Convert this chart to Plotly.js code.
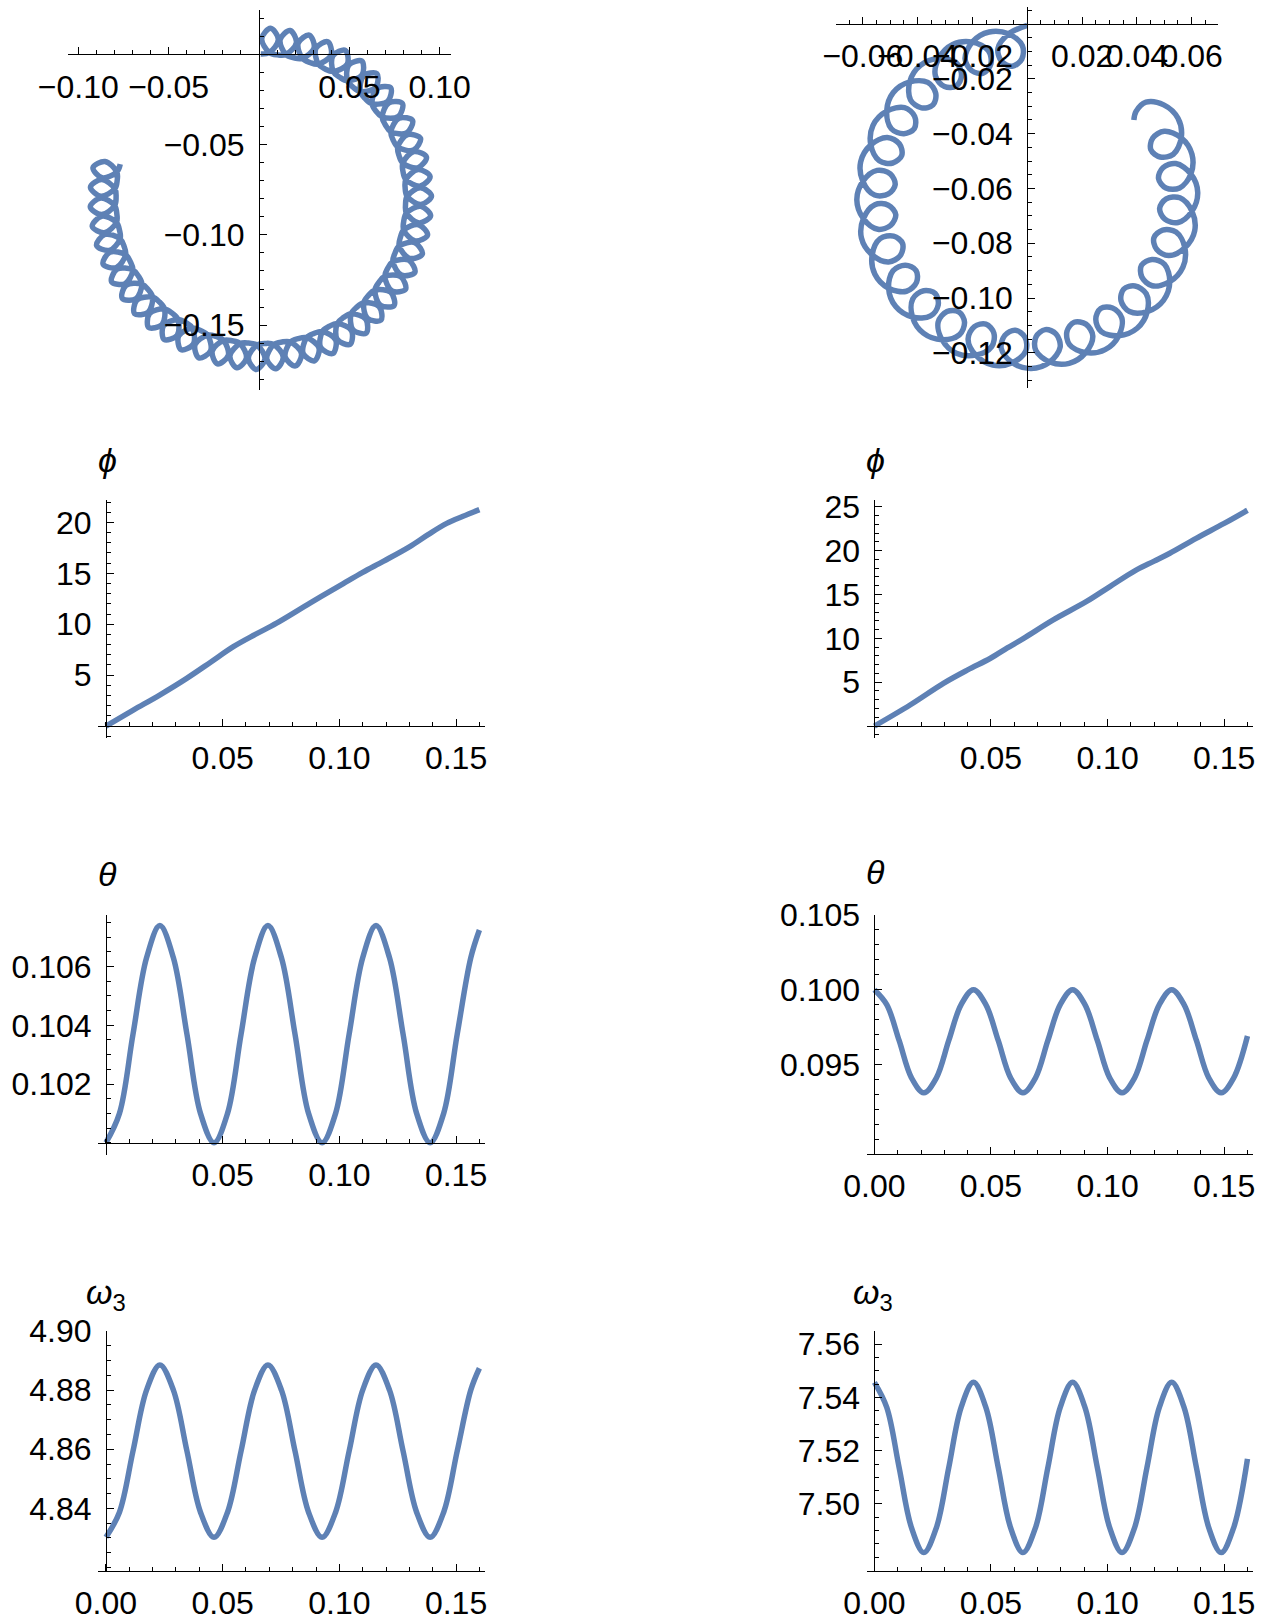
<!DOCTYPE html>
<html><head><meta charset="utf-8">
<script src="https://cdn.plot.ly/plotly-3.0.1.min.js"></script>
<style>html,body{margin:0;padding:0;background:#fff}#chart{width:1268px;height:1621px}</style>
</head><body><div id="chart"></div>
<script>
// ---------- DATA ----------
// Top-left trajectory (x, y)
const trajA_x = [
 0.0010,0.0057,0.0107,0.0064,0.0015,0.0057, 0.0102,0.0149,0.0207,0.0172,0.0117,0.0149,
 0.0193,0.0240,0.0305,0.0278,0.0217,0.0240, 0.0282,0.0328,0.0399,0.0381,0.0315,0.0328,
 0.0366,0.0411,0.0489,0.0478,0.0409,0.0411, 0.0447,0.0490,0.0571,0.0569,0.0497,0.0490,
 0.0521,0.0561,0.0646,0.0653,0.0579,0.0561, 0.0588,0.0626,0.0713,0.0729,0.0653,0.0626,
 0.0648,0.0682,0.0771,0.0794,0.0719,0.0682, 0.0700,0.0730,0.0817,0.0850,0.0775,0.0730,
 0.0742,0.0768,0.0855,0.0894,0.0822,0.0768, 0.0775,0.0796,0.0879,0.0927,0.0857,0.0796,
 0.0797,0.0813,0.0893,0.0947,0.0881,0.0813, 0.0809,0.0820,0.0896,0.0955,0.0894,0.0820,
 0.0811,0.0816,0.0886,0.0950,0.0895,0.0816, 0.0801,0.0801,0.0865,0.0933,0.0884,0.0801,
 0.0782,0.0776,0.0833,0.0904,0.0863,0.0776, 0.0752,0.0741,0.0789,0.0863,0.0829,0.0741,
 0.0712,0.0696,0.0736,0.0811,0.0785,0.0696, 0.0663,0.0642,0.0672,0.0748,0.0729,0.0642,
 0.0605,0.0580,0.0600,0.0675,0.0665,0.0580, 0.0540,0.0510,0.0520,0.0593,0.0592,0.0510,
 0.0467,0.0433,0.0433,0.0504,0.0512,0.0433, 0.0389,0.0351,0.0341,0.0408,0.0425,0.0351,
 0.0305,0.0264,0.0244,0.0307,0.0332,0.0264, 0.0217,0.0174,0.0145,0.0202,0.0235,0.0174,
 0.0127,0.0082,0.0043,0.0094,0.0134,0.0082, 0.0035,-0.0011,-0.0059,-0.0015,0.0033,-0.0011,
 -0.0057,-0.0104,-0.0161,-0.0123,-0.0070,-0.0104, -0.0149,-0.0196,-0.0259,-0.0230,-0.0170,-0.0196,
 -0.0238,-0.0284,-0.0354,-0.0333,-0.0268,-0.0284, -0.0324,-0.0369,-0.0445,-0.0432,-0.0363,-0.0369,
 -0.0405,-0.0449,-0.0529,-0.0525,-0.0453,-0.0449, -0.0481,-0.0523,-0.0606,-0.0611,-0.0537,-0.0523,
 -0.0551,-0.0589,-0.0676,-0.0689,-0.0614,-0.0589, -0.0613,-0.0648,-0.0736,-0.0757,-0.0682,-0.0648,
 -0.0667,-0.0698,-0.0786,-0.0816,-0.0741,-0.0698, -0.0712,-0.0738,-0.0826,-0.0863,-0.0790,-0.0738,
 -0.0747,-0.0769,-0.0853,-0.0899,-0.0828,-0.0769, -0.0772,-0.0789,-0.0871,-0.0923,-0.0856,-0.0789,
 -0.0787,-0.0799,-0.0876,-0.0934,-0.0872,-0.0799, -0.0791,-0.0798,-0.0870,-0.0933,-0.0876,-0.0798,
 -0.0785,-0.0787,-0.0852,-0.0919,-0.0869,-0.0787, -0.0768];
const trajA_y = [
 0.0001,0.0009,0.0081,0.0143,0.0086,0.0009, -0.0004,-0.0002,0.0064,0.0131,0.0080,-0.0002,
 -0.0020,-0.0023,0.0035,0.0106,0.0061,-0.0023, -0.0046,-0.0055,-0.0004,0.0069,0.0032,-0.0055,
 -0.0082,-0.0096,-0.0054,0.0021,-0.0009,-0.0096, -0.0128,-0.0147,-0.0114,-0.0038,-0.0060,-0.0147,
 -0.0183,-0.0207,-0.0183,-0.0108,-0.0120,-0.0207, -0.0246,-0.0274,-0.0260,-0.0186,-0.0190,-0.0274,
 -0.0316,-0.0348,-0.0345,-0.0273,-0.0269,-0.0348, -0.0392,-0.0429,-0.0436,-0.0367,-0.0354,-0.0429,
 -0.0474,-0.0514,-0.0531,-0.0466,-0.0445,-0.0514, -0.0561,-0.0603,-0.0629,-0.0570,-0.0539,-0.0603,
 -0.0650,-0.0694,-0.0730,-0.0677,-0.0639,-0.0694, -0.0741,-0.0787,-0.0832,-0.0785,-0.0740,-0.0787,
 -0.0834,-0.0880,-0.0934,-0.0894,-0.0842,-0.0880, -0.0926,-0.0973,-0.1034,-0.1001,-0.0944,-0.0973,
 -0.1016,-0.1062,-0.1130,-0.1106,-0.1043,-0.1062, -0.1103,-0.1149,-0.1223,-0.1207,-0.1140,-0.1149,
 -0.1186,-0.1230,-0.1310,-0.1302,-0.1232,-0.1230, -0.1264,-0.1306,-0.1390,-0.1391,-0.1318,-0.1306,
 -0.1336,-0.1376,-0.1462,-0.1472,-0.1397,-0.1376, -0.1401,-0.1437,-0.1525,-0.1544,-0.1468,-0.1437,
 -0.1458,-0.1491,-0.1578,-0.1606,-0.1530,-0.1491, -0.1506,-0.1535,-0.1622,-0.1657,-0.1583,-0.1535,
 -0.1545,-0.1569,-0.1655,-0.1697,-0.1626,-0.1569, -0.1574,-0.1593,-0.1676,-0.1725,-0.1657,-0.1593,
 -0.1593,-0.1607,-0.1686,-0.1741,-0.1677,-0.1607, -0.1601,-0.1610,-0.1684,-0.1745,-0.1686,-0.1610,
 -0.1599,-0.1602,-0.1670,-0.1736,-0.1683,-0.1602, -0.1586,-0.1584,-0.1644,-0.1714,-0.1667,-0.1584,
 -0.1562,-0.1555,-0.1608,-0.1681,-0.1642,-0.1555, -0.1529,-0.1516,-0.1561,-0.1635,-0.1604,-0.1516,
 -0.1485,-0.1468,-0.1504,-0.1579,-0.1556,-0.1468, -0.1433,-0.1410,-0.1436,-0.1512,-0.1497,-0.1410,
 -0.1372,-0.1345,-0.1361,-0.1436,-0.1429,-0.1345, -0.1304,-0.1273,-0.1279,-0.1351,-0.1354,-0.1273,
 -0.1229,-0.1194,-0.1190,-0.1260,-0.1270,-0.1194, -0.1149,-0.1110,-0.1096,-0.1162,-0.1181,-0.1110,
 -0.1063,-0.1022,-0.0998,-0.1059,-0.1086,-0.1022, -0.0975,-0.0931,-0.0897,-0.0953,-0.0988,-0.0931,
 -0.0884,-0.0838,-0.0796,-0.0845,-0.0888,-0.0838, -0.0792,-0.0745,-0.0694,-0.0736,-0.0786,-0.0745,
 -0.0699,-0.0652,-0.0594,-0.0628,-0.0684,-0.0652, -0.0609];

// Top-right trajectory (x, y)
const trajB_x = [
 0.0000,-0.0068,-0.0107,-0.0094,-0.0055,-0.0020,-0.0018,-0.0068,
 -0.0139,-0.0201,-0.0227,-0.0203,-0.0161,-0.0133,-0.0142,-0.0201,
 -0.0272,-0.0323,-0.0335,-0.0302,-0.0259,-0.0240,-0.0259,-0.0323,
 -0.0390,-0.0429,-0.0426,-0.0386,-0.0344,-0.0334,-0.0363,-0.0429,
 -0.0489,-0.0513,-0.0496,-0.0450,-0.0412,-0.0411,-0.0448,-0.0513,
 -0.0563,-0.0571,-0.0540,-0.0491,-0.0458,-0.0467,-0.0511,-0.0571,
 -0.0608,-0.0600,-0.0557,-0.0507,-0.0482,-0.0500,-0.0548,-0.0600,
 -0.0622,-0.0598,-0.0545,-0.0498,-0.0480,-0.0507,-0.0556,-0.0598,
 -0.0605,-0.0566,-0.0506,-0.0463,-0.0455,-0.0488,-0.0537,-0.0566,
 -0.0556,-0.0506,-0.0441,-0.0404,-0.0406,-0.0445,-0.0490,-0.0506,
 -0.0480,-0.0419,-0.0353,-0.0325,-0.0336,-0.0378,-0.0418,-0.0419,
 -0.0379,-0.0311,-0.0248,-0.0229,-0.0250,-0.0293,-0.0325,-0.0311,
 -0.0259,-0.0188,-0.0130,-0.0122,-0.0151,-0.0193,-0.0216,-0.0188,
 -0.0126,-0.0054,-0.0005,-0.0009,-0.0044,-0.0082,-0.0095,-0.0054,
 0.0014,0.0082,0.0120,0.0105,0.0066,0.0032,0.0031,0.0082,
 0.0153,0.0213,0.0239,0.0214,0.0171,0.0145,0.0154,0.0213,
 0.0284,0.0334,0.0345,0.0311,0.0268,0.0250,0.0270,0.0334,
 0.0401,0.0438,0.0434,0.0393,0.0352,0.0342,0.0373,0.0438,
 0.0497,0.0520,0.0501,0.0455,0.0417,0.0418,0.0456,0.0520,
 0.0568,0.0575,0.0543,0.0494,0.0462,0.0472,0.0516,0.0575,
 0.0611,0.0601,0.0557,0.0507,0.0483,0.0502,0.0550,0.0601,
 0.0622,0.0597,0.0542,0.0495,0.0479,0.0506,0.0556,0.0597,
 0.0601,0.0562,0.0500,0.0458,0.0451,0.0485,0.0533,0.0562,
 0.0550,0.0498,0.0433,0.0397,0.0389];
const trajB_y = [
 -0.0005,-0.0036,-0.0089,-0.0136,-0.0154,-0.0128,-0.0079,-0.0036,
 -0.0029,-0.0066,-0.0127,-0.0170,-0.0179,-0.0146,-0.0097,-0.0066,
 -0.0075,-0.0126,-0.0190,-0.0228,-0.0226,-0.0188,-0.0142,-0.0126,
 -0.0151,-0.0211,-0.0277,-0.0306,-0.0295,-0.0253,-0.0213,-0.0211,
 -0.0250,-0.0318,-0.0382,-0.0400,-0.0381,-0.0337,-0.0305,-0.0318,
 -0.0370,-0.0441,-0.0499,-0.0507,-0.0479,-0.0437,-0.0414,-0.0441,
 -0.0503,-0.0574,-0.0624,-0.0620,-0.0586,-0.0547,-0.0534,-0.0574,
 -0.0642,-0.0710,-0.0749,-0.0734,-0.0695,-0.0661,-0.0659,-0.0710,
 -0.0781,-0.0842,-0.0868,-0.0844,-0.0801,-0.0774,-0.0783,-0.0842,
 -0.0913,-0.0964,-0.0975,-0.0942,-0.0899,-0.0880,-0.0900,-0.0964,
 -0.1031,-0.1069,-0.1065,-0.1025,-0.0983,-0.0973,-0.1003,-0.1069,
 -0.1128,-0.1152,-0.1134,-0.1088,-0.1050,-0.1049,-0.1087,-0.1152,
 -0.1201,-0.1208,-0.1177,-0.1127,-0.1095,-0.1104,-0.1149,-0.1208,
 -0.1244,-0.1236,-0.1192,-0.1142,-0.1117,-0.1136,-0.1184,-0.1236,
 -0.1257,-0.1233,-0.1179,-0.1131,-0.1115,-0.1141,-0.1191,-0.1233,
 -0.1238,-0.1199,-0.1138,-0.1095,-0.1088,-0.1121,-0.1170,-0.1199,
 -0.1188,-0.1137,-0.1072,-0.1036,-0.1038,-0.1077,-0.1122,-0.1137,
 -0.1110,-0.1049,-0.0984,-0.0956,-0.0967,-0.1009,-0.1049,-0.1049,
 -0.1008,-0.0940,-0.0877,-0.0859,-0.0880,-0.0923,-0.0955,-0.0940,
 -0.0887,-0.0816,-0.0759,-0.0752,-0.0780,-0.0822,-0.0845,-0.0816,
 -0.0754,-0.0683,-0.0634,-0.0638,-0.0673,-0.0712,-0.0724,-0.0683,
 -0.0614,-0.0547,-0.0509,-0.0524,-0.0564,-0.0598,-0.0598,-0.0547,
 -0.0475,-0.0415,-0.0391,-0.0416,-0.0459,-0.0485,-0.0475,-0.0415,
 -0.0344,-0.0295,-0.0285,-0.0319,-0.0350];

// phi(t)
const phiA_t = [0, 0.0117, 0.0230, 0.0346, 0.0450, 0.0546, 0.0640, 0.0731, 0.0874, 0.1017, 0.1100, 0.1190, 0.1300, 0.1380, 0.1460, 0.1530, 0.1600];
const phiA   = [0, 1.57, 3.05, 4.69, 6.30, 7.80, 9.00, 10.10, 12.07, 14.00, 15.10, 16.20, 17.60, 18.80, 19.90, 20.60, 21.25];
const phiB_t = [0, 0.0153, 0.0296, 0.0400, 0.0496, 0.0570, 0.0640, 0.0767, 0.0910, 0.1010, 0.1124, 0.1200, 0.1267, 0.1380, 0.1500, 0.1600];
const phiB   = [0, 2.40, 4.87, 6.40, 7.70, 8.90, 10.00, 12.10, 14.20, 15.90, 17.80, 18.80, 19.70, 21.40, 23.10, 24.60];

// theta(t), omega3(t)
const timeA = [0, 0.0058, 0.0116, 0.0174, 0.0231, 0.0289, 0.0347, 0.0405, 0.0463, 0.0521, 0.0579, 0.0637, 0.0694, 0.0752, 0.0810, 0.0868, 0.0926, 0.0984, 0.1042, 0.1100, 0.1157, 0.1215, 0.1273, 0.1331, 0.1389, 0.1447, 0.1505, 0.1563, 0.1600];
const thetaA = [0.1000,0.1010,0.1037,0.1063,0.1074,0.1063,0.1037,0.1010, 0.1000,0.1010,0.1037,0.1063,0.1074,0.1063,0.1037,0.1010, 0.1000,0.1010,0.1037,0.1063,0.1074,0.1063,0.1037,0.1010, 0.1000,0.1010,0.1037,0.1063, 0.10725];
const omegaA = [4.8302,4.8387,4.8594,4.8800,4.8885,4.8800,4.8594,4.8387, 4.8302,4.8387,4.8594,4.8800,4.8885,4.8800,4.8594,4.8387, 4.8302,4.8387,4.8594,4.8800,4.8885,4.8800,4.8594,4.8387, 4.8302,4.8387,4.8594,4.8800, 4.8874];
const timeB = [0, 0.0053, 0.0106, 0.0159, 0.0212, 0.0266, 0.0319, 0.0372, 0.0425, 0.0478, 0.0531, 0.0584, 0.0637, 0.0691, 0.0744, 0.0797, 0.0850, 0.0903, 0.0956, 0.1009, 0.1062, 0.1116, 0.1169, 0.1222, 0.1275, 0.1328, 0.1381, 0.1434, 0.1487, 0.1541, 0.1600];
const thetaB = [0.1000,0.0990,0.0966,0.0941,0.0931,0.0941,0.0966,0.0990, 0.1000,0.0990,0.0966,0.0941,0.0931,0.0941,0.0966,0.0990, 0.1000,0.0990,0.0966,0.0941,0.0931,0.0941,0.0966,0.0990, 0.1000,0.0990,0.0966,0.0941,0.0931,0.0941, 0.0969];
const omegaB = [7.5457,7.5363,7.5137,7.4911,7.4817,7.4911,7.5137,7.5363, 7.5457,7.5363,7.5137,7.4911,7.4817,7.4911,7.5137,7.5363, 7.5457,7.5363,7.5137,7.4911,7.4817,7.4911,7.5137,7.5363, 7.5457,7.5363,7.5137,7.4911,7.4817,7.4911, 7.5169];

// tick labels
const tl1x_v = [-0.10,-0.05,0.05,0.10], tl1x_t = ["\u22120.10","\u22120.05","0.05","0.10"];
const tl1y_v = [-0.05,-0.10,-0.15],     tl1y_t = ["\u22120.05","\u22120.10","\u22120.15"];
const tl2x_v = [-0.06,-0.04,-0.02,0.02,0.04,0.06], tl2x_t = ["\u22120.06","\u22120.04","\u22120.02","0.02","0.04","0.06"];
const tl2y_v = [-0.02,-0.04,-0.06,-0.08,-0.10,-0.12], tl2y_t = ["\u22120.02","\u22120.04","\u22120.06","\u22120.08","\u22120.10","\u22120.12"];
const tTick_v = [0.05,0.10,0.15], tTick_t = ["0.05","0.10","0.15"];
const tTick0_v = [0,0.05,0.10,0.15], tTick0_t = ["0.00","0.05","0.10","0.15"];
const phiA_v = [5,10,15,20], phiA_tx = ["5","10","15","20"];
const phiB_v = [5,10,15,20,25], phiB_tx = ["5","10","15","20","25"];
const thA_v = [0.102,0.104,0.106], thA_tx = ["0.102","0.104","0.106"];
const thB_v = [0.095,0.100,0.105], thB_tx = ["0.095","0.100","0.105"];
const omA_v = [4.84,4.86,4.88,4.90], omA_tx = ["4.84","4.86","4.88","4.90"];
const omB_v = [7.50,7.52,7.54,7.56], omB_tx = ["7.50","7.52","7.54","7.56"];

// ---------- LAYOUT ----------
const W = 1268, H = 1621;
const COLOR = '#5E81B5';
const FONT = 'Liberation Sans, Arial, Helvetica, sans-serif';
function xd(a,b){ return [a/W, b/W]; }
function yd(top,bot){ return [1-bot/H, 1-top/H]; }
function at(dom, rng, v){ return dom[0] + (v-rng[0])/(rng[1]-rng[0])*(dom[1]-dom[0]); }

const panels = [
 {x:trajA_x, y:trajA_y, px:[68.4,450.5], py:[9.9,389.7], xr:[-0.1055,0.106], yr:[-0.1857,0.0245],
  xv:tl1x_v, xt:tl1x_t, xm:0.01, yv:tl1y_v, yt:tl1y_t, ym:0.01, cx:0, cy:0},
 {x:trajB_x, y:trajB_y, px:[836,1218], py:[7.3,388], xr:[-0.0698,0.0696], yr:[-0.1328,0.0061],
  xv:tl2x_v, xt:tl2x_t, xm:0.005, yv:tl2y_v, yt:tl2y_t, ym:0.005, cx:0, cy:0},
 {x:phiA_t, y:phiA, px:[98,485], py:[500,738.3], xr:[-0.0034,0.1624], yr:[-1.2,22.2],
  xv:tTick_v, xt:tTick_t, xm:0.01, yv:phiA_v, yt:phiA_tx, ym:1, cx:0, cy:0},
 {x:phiB_t, y:phiB, px:[866.7,1253.3], py:[500,738.3], xr:[-0.0033,0.1625], yr:[-1.4,25.77],
  xv:tTick_v, xt:tTick_t, xm:0.01, yv:phiB_v, yt:phiB_tx, ym:1, cx:0, cy:0},
 {x:timeA, y:thetaA, px:[98,485], py:[915,1155], xr:[-0.0034,0.1624], yr:[0.09958,0.10776],
  xv:tTick_v, xt:tTick_t, xm:0.01, yv:thA_v, yt:thA_tx, ym:0.0005, cx:0, cy:0.1},
 {x:timeB, y:thetaB, px:[866.7,1253.3], py:[915,1154], xr:[-0.0033,0.1625], yr:[0.0890,0.1050],
  xv:tTick0_v, xt:tTick0_t, xm:0.01, yv:thB_v, yt:thB_tx, ym:0.001, cx:0, cy:0.0890},
 {x:timeA, y:omegaA, px:[98,485], py:[1331,1570.7], xr:[-0.0034,0.1624], yr:[4.8189,4.90],
  xv:tTick0_v, xt:tTick0_t, xm:0.01, yv:omA_v, yt:omA_tx, ym:0.005, cx:0, cy:4.8189},
 {x:timeB, y:omegaB, px:[866.7,1253.3], py:[1330.7,1570.7], xr:[-0.0033,0.1625], yr:[7.4749,7.5651],
  xv:tTick0_v, xt:tTick0_t, xm:0.01, yv:omB_v, yt:omB_tx, ym:0.005, cx:0, cy:7.4749}
];

const traces = [];
const layout = {
  width: W, height: H, margin: {l:0, r:0, t:0, b:0},
  paper_bgcolor: '#fff', plot_bgcolor: 'rgba(0,0,0,0)', showlegend: false,
  font: {family: FONT, color: '#000', size: 32},
  annotations: []
};

function axisBase(){
  return {
    showgrid:false, zeroline:false, showline:true, linecolor:'#000', linewidth:1,
    ticks:'inside', ticklen:7, tickwidth:1, tickcolor:'#000',
    tickfont:{family:FONT, size:32, color:'#000'}, tickangle:0,
    tickmode:'array', fixedrange:true, anchor:'free', layer:'above traces',
  };
}

panels.forEach((p, i) => {
  const n = i === 0 ? '' : String(i+1);
  const xdom = xd(p.px[0], p.px[1]);
  const ydom = yd(p.py[0], p.py[1]);
  traces.push({type:'scatter', mode:'lines', x:p.x, y:p.y, xaxis:'x'+n, yaxis:'y'+n,
    line:{color:COLOR, width:5.5, shape:'spline', smoothing:1}, hoverinfo:'skip'});
  const xa = axisBase();
  Object.assign(xa, {domain:xdom, range:p.xr, position:at(ydom, p.yr, p.cy), side:'bottom',
    tickvals:p.xv, ticktext:p.xt, ticklabelstandoff:4,
    minor:{ticks:'inside', ticklen:4, tickwidth:1, tickcolor:'#000', tickmode:'linear', tick0:0, dtick:p.xm, showgrid:false}});
  const ya = axisBase();
  Object.assign(ya, {domain:ydom, range:p.yr, position:at(xdom, p.xr, p.cx), side:'left',
    tickvals:p.yv, ticktext:p.yt, ticklabelstandoff:8,
    minor:{ticks:'inside', ticklen:4, tickwidth:1, tickcolor:'#000', tickmode:'linear', tick0:0, dtick:p.ym, showgrid:false}});
  layout['xaxis'+n] = xa;
  layout['yaxis'+n] = ya;
});

// axis titles
const titles = [
  {t:'<i>\u03D5</i>', x:107, y:460},
  {t:'<i>\u03D5</i>', x:875, y:460},
  {t:'<i>\u03B8</i>', x:107, y:874},
  {t:'<i>\u03B8</i>', x:875, y:872},
  {t:'<i>\u03C9</i><sub>3</sub>', x:106, y:1294},
  {t:'<i>\u03C9</i><sub>3</sub>', x:873, y:1294}
];
titles.forEach(a => layout.annotations.push({text:a.t, x:a.x/W, y:1-a.y/H, xref:'paper', yref:'paper',
  showarrow:false, xanchor:'center', yanchor:'middle', font:{family:FONT, size:34, color:'#000'}}));

Plotly.newPlot('chart', traces, layout, {displayModeBar:false, staticPlot:true});
</script>
</body></html>
